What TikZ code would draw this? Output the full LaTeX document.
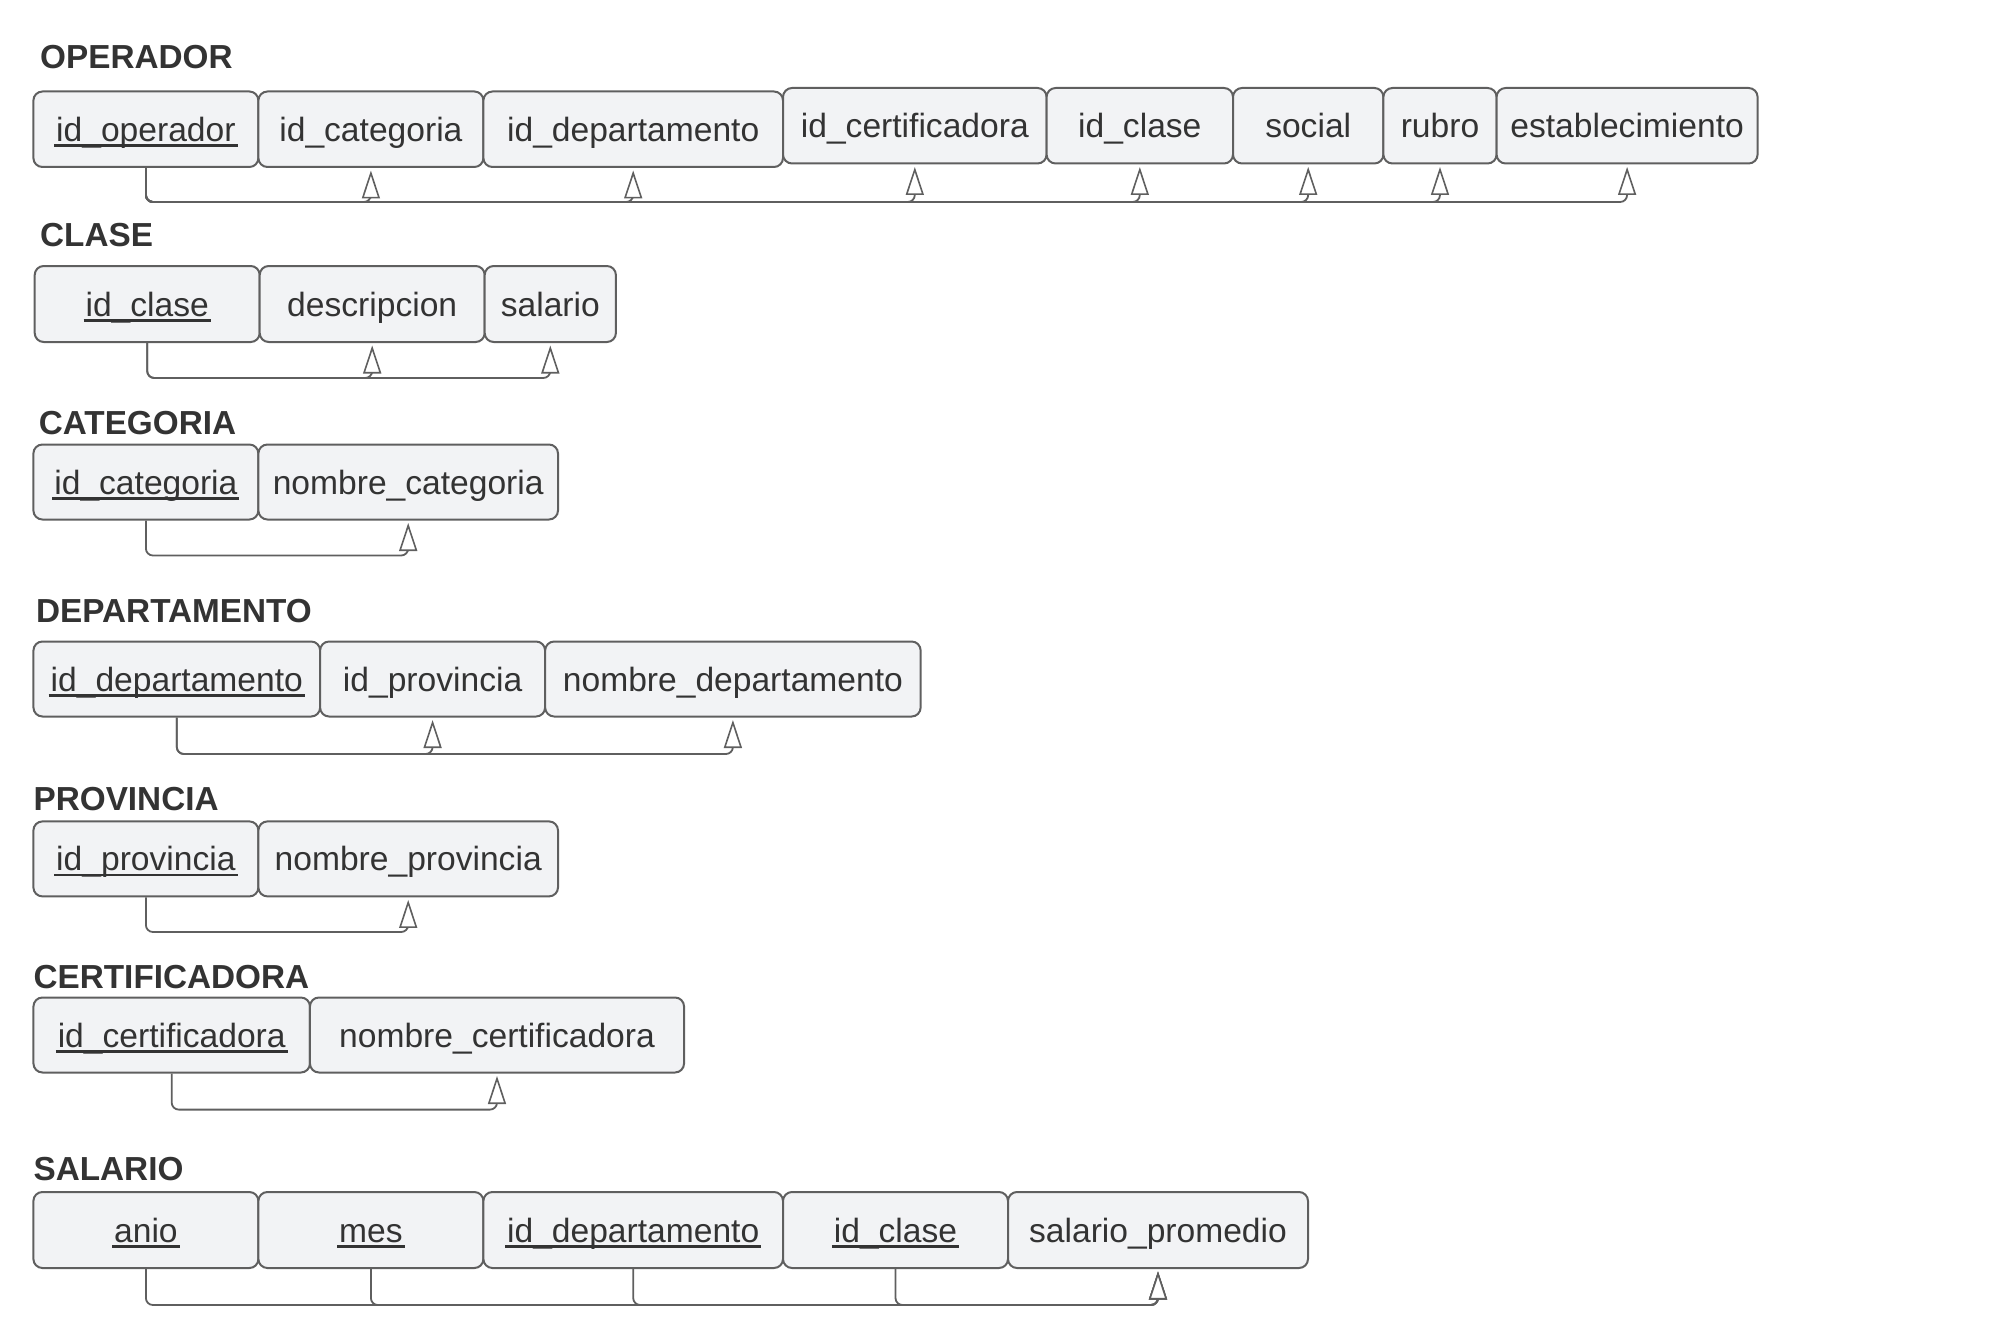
\documentclass[tikz,border=0pt]{standalone}
\usepackage{fontspec}
\setmainfont{Liberation Sans}
\usetikzlibrary{arrows.meta}
\definecolor{txt}{HTML}{333333}
\definecolor{bord}{HTML}{5F5F5F}
\definecolor{fillc}{HTML}{F2F3F5}
\newcommand\pkey[1]{\setbox0\hbox{#1}\rlap{\kern-2pt\rule[-5.5pt]{\dimexpr\wd0+4pt\relax}{2.8pt}}\box0}
\begin{document}
\begin{tikzpicture}[x=1pt,y=-1pt,
  fld/.style={draw=bord, fill=fillc, line width=2pt, rounded corners=9pt, inner sep=0pt,
    text height=24pt, text depth=0pt, text=txt, font=\fontsize{33.6pt}{40pt}\selectfont},
  ttl/.style={anchor=base west, inner sep=0pt, text=txt, font=\fontsize{33.3pt}{40pt}\selectfont\bfseries},
  conn/.style={draw=bord, line width=1.8pt, rounded corners=7pt,
    -{Triangle[length=28pt, width=18pt, fill=white, line width=1.6pt]}, shorten >=2.5pt}]
\useasboundingbox (0,0) rectangle (2016,1343);

% OPERADOR
\node[ttl] (tOp) at (40,68.3) {OPERADOR};
\node[fld, minimum width=225, minimum height=75.5] (op1) at (145.9,129.25) {\pkey{id\_operador}};
\node[fld, minimum width=225, minimum height=75.5] (op2) at (370.9,129.25) {id\_categoria};
\node[fld, minimum width=299.6, minimum height=75.5] (op3) at (633.2,129.25) {id\_departamento};
\node[fld, minimum width=263.6, minimum height=75.5] (op4) at (914.8,125.75) {id\_certificadora};
\node[fld, minimum width=186.4, minimum height=75.5] (op5) at (1139.8,125.75) {id\_clase};
\node[fld, minimum width=150.4, minimum height=75.5] (op6) at (1308.2,125.75) {social};
\node[fld, minimum width=113.2, minimum height=75.5] (op7) at (1440,125.75) {rubro};
\node[fld, minimum width=261, minimum height=75.5] (op8) at (1627.1,125.75) {establecimiento};
\coordinate (opH) at (0,202);
\foreach \t in {op2,op3,op4,op5,op6,op7,op8}
  \draw[conn] (op1.south) -- (op1.south |- opH) -| (\t.south);

% CLASE
\node[ttl] (tCl) at (40,247) {CLASE};
\node[fld, minimum width=225, minimum height=76] (cl1) at (147.2,304) {\pkey{id\_clase}};
\node[fld, minimum width=225, minimum height=76] (cl2) at (372.2,304) {descripcion};
\node[fld, minimum width=131.2, minimum height=76] (cl3) at (550.3,304) {salario};
\coordinate (clH) at (0,378);
\foreach \t in {cl2,cl3}
  \draw[conn] (cl1.south) -- (cl1.south |- clH) -| (\t.south);

% CATEGORIA
\node[ttl] (tCa) at (38.6,434.7) {CATEGORIA};
\node[fld, minimum width=225, minimum height=75] (ca1) at (145.9,482) {\pkey{id\_categoria}};
\node[fld, minimum width=299.6, minimum height=75] (ca2) at (408.2,482) {nombre\_categoria};
\coordinate (caH) at (0,555.5);
\draw[conn] (ca1.south) -- (ca1.south |- caH) -| (ca2.south);

% DEPARTAMENTO
\node[ttl] (tDe) at (36,622.4) {DEPARTAMENTO};
\node[fld, minimum width=286.7, minimum height=75] (de1) at (176.8,679) {\pkey{id\_departamento}};
\node[fld, minimum width=225, minimum height=75] (de2) at (432.6,679) {id\_provincia};
\node[fld, minimum width=375.5, minimum height=75] (de3) at (732.9,679) {nombre\_departamento};
\coordinate (deH) at (0,754);
\foreach \t in {de2,de3}
  \draw[conn] (de1.south) -- (de1.south |- deH) -| (\t.south);

% PROVINCIA
\node[ttl] (tPr) at (33.4,810) {PROVINCIA};
\node[fld, minimum width=225, minimum height=75] (pr1) at (145.9,858.9) {\pkey{id\_provincia}};
\node[fld, minimum width=299.6, minimum height=75] (pr2) at (408.2,858.9) {nombre\_provincia};
\coordinate (prH) at (0,932);
\draw[conn] (pr1.south) -- (pr1.south |- prH) -| (pr2.south);

% CERTIFICADORA
\node[ttl] (tCe) at (33.4,988.8) {CERTIFICADORA};
\node[fld, minimum width=276.5, minimum height=75] (ce1) at (171.7,1035) {\pkey{id\_certificadora}};
\node[fld, minimum width=374.1, minimum height=75] (ce2) at (497,1035) {nombre\_certificadora};
\coordinate (ceH) at (0,1109.6);
\draw[conn] (ce1.south) -- (ce1.south |- ceH) -| (ce2.south);

% SALARIO
\node[ttl] (tSa) at (33.4,1180.4) {SALARIO};
\node[fld, minimum width=225, minimum height=76] (sa1) at (145.9,1230) {\pkey{anio}};
\node[fld, minimum width=225, minimum height=76] (sa2) at (370.9,1230) {\pkey{mes}};
\node[fld, minimum width=299.6, minimum height=76] (sa3) at (633.2,1230) {\pkey{id\_departamento}};
\node[fld, minimum width=225, minimum height=76] (sa4) at (895.5,1230) {\pkey{id\_clase}};
\node[fld, minimum width=300, minimum height=76] (sa5) at (1158,1230) {salario\_promedio};
\coordinate (saH) at (0,1305);
\foreach \s in {sa1,sa2,sa3,sa4}
  \draw[conn] (\s.south) -- (\s.south |- saH) -| (sa5.south);
\end{tikzpicture}
\end{document}
